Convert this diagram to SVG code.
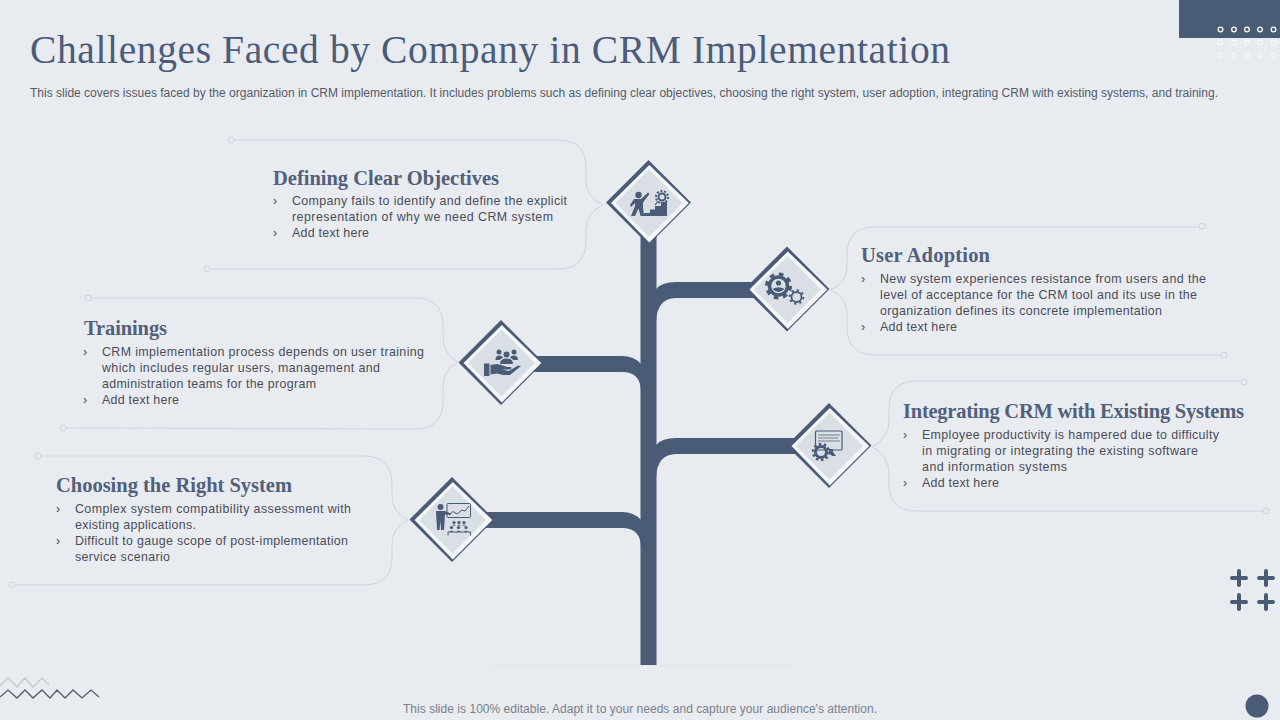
<svg xmlns="http://www.w3.org/2000/svg" width="1280" height="720" viewBox="0 0 1280 720">
<style>
.title{font:39.5px "Liberation Serif","DejaVu Serif",serif;fill:#4a5c78}
.sub{font:12px "Liberation Sans",Arial,sans-serif;fill:#555b66}
.foot{font:12px "Liberation Sans",Arial,sans-serif;fill:#7b808a}
.h{font:bold 20.5px "Liberation Serif","DejaVu Serif",serif;fill:#52607a}
.b{font:12.4px "Liberation Sans",Arial,sans-serif;fill:#4a4d57}
.call{fill:none;stroke:#ced5e0;stroke-width:1}
.end{fill:#e8ebf0;stroke:#ced5e0;stroke-width:1}
.dark{fill:#4a5b76}
.white{fill:#f4f6f9}
.gray{fill:#dadee5}
.ico{fill:#4a5b76}
.icol{fill:none;stroke:#4a5b76}
.plus{stroke:#4a5b76;stroke-width:4;stroke-linecap:round}
.dot{fill:none;stroke:#fff;stroke-width:1.3}
</style>
<defs>
<g id="diamond">
<polygon class="dark" points="0,-42.500 42.500,0 0,42.500 -42.500,0"/>
<polygon class="white" points="0.800,-37.500 40.300,0.500 0.800,40 -37.500,0.500"/>
<polygon class="gray" points="0.500,-33 34,0.500 0.500,34 -33,0.500"/>
</g>
</defs>
<rect width="1280" height="720" fill="#e8ebf0"/>
<rect class="dark" x="1179" y="0" width="101" height="38"/>
<g id="dots">
<g class="dot"><circle cx="1220.500" cy="29.500" r="2.300"/><circle cx="1234" cy="29.500" r="2.300"/><circle cx="1247" cy="29.500" r="2.300"/><circle cx="1260" cy="29.500" r="2.300"/><circle cx="1273.500" cy="29.500" r="2.300"/></g>
<g class="dot" opacity="0.6"><circle cx="1220.500" cy="42.500" r="2.300"/><circle cx="1234" cy="42.500" r="2.300"/><circle cx="1247" cy="42.500" r="2.300"/><circle cx="1260" cy="42.500" r="2.300"/><circle cx="1273.500" cy="42.500" r="2.300"/><circle cx="1220.500" cy="55.500" r="2.300"/><circle cx="1234" cy="55.500" r="2.300"/><circle cx="1247" cy="55.500" r="2.300"/><circle cx="1260" cy="55.500" r="2.300"/><circle cx="1273.500" cy="55.500" r="2.300"/></g>
</g>
<text class="title" x="30" y="63" textLength="920">Challenges Faced by Company in CRM Implementation</text>
<text class="sub" x="30" y="97" textLength="1188">This slide covers issues faced by the organization in CRM implementation. It includes problems such as defining clear objectives, choosing the right system, user adoption, integrating CRM with existing systems, and training.</text>
<line x1="490" y1="665.500" x2="795" y2="665.500" stroke="#e2e6ec" stroke-width="1"/>

<g id="connectors">
<rect class="dark" x="640.500" y="235" width="16" height="430"/>
<path class="dark" d="M656,289 Q662,282 676,282 L765,282 L765,298 L676,298 Q657,298 656,322 Z"/>
<path class="dark" d="M656,445 Q662,438 676,438 L805,438 L805,454 L676,454 Q657,454 656,478 Z"/>
<path class="dark" d="M525,356 L622,356 Q634,356 641,364 L641,392 Q641,372 622,372 L525,372 Z"/>
<path class="dark" d="M475,512 L622,512 Q634,512 641,520 L641,548 Q641,528 622,528 L475,528 Z"/>
</g>

<g id="node-objectives">
<path class="call" d="M234,140 L558,140 Q586,140 586,168 L586,180 Q586,197 603,205 Q586,213 586,230 L586,241 Q586,269 558,269 L210,269"/>
<circle class="end" cx="231" cy="140" r="3"/><circle class="end" cx="207" cy="269" r="3"/>
<text class="h" x="273" y="185" textLength="226">Defining Clear Objectives</text>
<text class="b" x="273" y="205">›</text><text class="b" x="292" y="205" textLength="275">Company fails to identify and define the explicit</text>
<text class="b" x="292" y="221" textLength="261">representation of why we need CRM system</text>
<text class="b" x="273" y="237">›</text><text class="b" x="292" y="237" textLength="77">Add text here</text>
<use href="#diamond" x="648.500" y="202.500"/>
<g id="icon-stairs">
<circle class="ico" cx="638.500" cy="195" r="3.200"/>
<path class="ico" d="M634,199 L641,199 L648,192.500 L649.500,194 L643,202.500 L643,207 L644,216 L640.500,216 L638.500,208.500 L635,216 L631,216 L635,206 L635,203 L631,207 L630,205 Z"/>
<path class="ico" d="M644,216 L667,216 L667,202 L661,202 L661,206 L655,206 L655,209.500 L650,209.500 L650,213 L644,213 Z"/>
<circle class="icol" cx="662" cy="197" r="3.500" stroke-width="2"/>
<circle class="icol" cx="662" cy="197" r="6" stroke-width="2" stroke-dasharray="2 1.700"/>
<path class="icol" d="M658,201 L655,205" stroke-width="1.200"/>
</g>
</g>

<g id="node-adoption">
<path class="call" d="M1199,227 L875,227 Q847,227 847,255 L847,266 Q847,283 830,290 Q847,297 847,314 L847,327 Q847,355 875,355 L1221,355"/>
<circle class="end" cx="1202" cy="226" r="3"/><circle class="end" cx="1224" cy="355" r="3"/>
<text class="h" x="861" y="262" textLength="129">User Adoption</text>
<text class="b" x="861" y="283">›</text><text class="b" x="880" y="283" textLength="326">New system experiences resistance from users and the</text>
<text class="b" x="880" y="299" textLength="317">level of acceptance for the CRM tool and its use in the</text>
<text class="b" x="880" y="315" textLength="282">organization defines its concrete implementation</text>
<text class="b" x="861" y="331">›</text><text class="b" x="880" y="331" textLength="77">Add text here</text>
<use href="#diamond" x="787" y="289"/>
<g id="icon-gears">
<circle class="icol" cx="778.500" cy="286" r="9" stroke-width="3.500"/>
<circle class="icol" cx="778.500" cy="286" r="11.500" stroke-width="4" stroke-dasharray="4.500 4.530"/>
<circle class="ico" cx="778.500" cy="283" r="2.600"/>
<path class="ico" d="M772.500,289 Q778.500,285.500 784.500,289 Q778.500,295 772.500,289 Z"/>
<circle class="icol" cx="796.500" cy="297" r="5" stroke-width="1.800"/>
<circle class="icol" cx="796.500" cy="297" r="6.800" stroke-width="2" stroke-dasharray="2.300 3.040"/>
</g>
</g>

<g id="node-trainings">
<path class="call" d="M91,298 L415,298 Q443,298 443,326 L443,338 Q443,354 458,362 Q443,370 443,386 L443,401 Q443,429 415,429 L66,428"/>
<circle class="end" cx="88" cy="298" r="3"/><circle class="end" cx="63" cy="428" r="3"/>
<text class="h" x="84" y="335" textLength="83">Trainings</text>
<text class="b" x="83" y="356">›</text><text class="b" x="102" y="356" textLength="322">CRM implementation process depends on user training</text>
<text class="b" x="102" y="372" textLength="278">which includes regular users, management and</text>
<text class="b" x="102" y="388" textLength="214">administration teams for the program</text>
<text class="b" x="83" y="404">›</text><text class="b" x="102" y="404" textLength="77">Add text here</text>
<use href="#diamond" x="501" y="362.500"/>
<g id="icon-hand">
<circle class="ico" cx="499" cy="352" r="2.500"/><circle class="ico" cx="514" cy="352" r="2.500"/><circle class="ico" cx="506.500" cy="354.500" r="3"/>
<path class="ico" d="M495.500,360 Q495.500,355.500 499,355.500 Q502,355.500 503,357.500 L499.500,360 Z M518,360 Q518,355.500 514,355.500 Q511,355.500 510,357.500 L513.500,360 Z M500,364 Q500,358.500 506.500,358.500 Q513,358.500 513,364 Z"/>
<rect class="ico" x="484" y="363.500" width="5.500" height="12.500"/>
<path class="ico" d="M490.500,365 L497,364 Q503,365 507,367 L511,367 Q512,369 510,369.500 L502,369.500 L509,371 L518,365.500 L521,366 L510,375 L503,375 L497,373.500 L490.500,374.500 Z"/>
</g>
</g>

<g id="node-system">
<path class="call" d="M41,456 L364,456 Q392,456 392,484 L392,496 Q392,512 408,520 Q392,528 392,544 L392,557 Q392,585 364,585 L15,585"/>
<circle class="end" cx="38" cy="456" r="3"/><circle class="end" cx="12" cy="585" r="3"/>
<text class="h" x="56" y="492" textLength="236">Choosing the Right System</text>
<text class="b" x="56" y="513">›</text><text class="b" x="75" y="513" textLength="276">Complex system compatibility assessment with</text>
<text class="b" x="75" y="529" textLength="121">existing applications.</text>
<text class="b" x="56" y="545">›</text><text class="b" x="75" y="545" textLength="273">Difficult to gauge scope of post-implementation</text>
<text class="b" x="75" y="561" textLength="95">service scenario</text>
<use href="#diamond" x="452" y="519.500"/>
<g id="icon-present">
<circle class="ico" cx="440.500" cy="507" r="3"/>
<path class="ico" d="M436,511 L445,511 L451,513.500 L450.500,515 L445,514.500 L444,530 L441,530 L440.500,521 L439.500,530 L437,530 Z"/>
<rect class="icol" x="447" y="503.500" width="23.500" height="14" stroke-width="1" rx="1"/>
<path class="icol" d="M450,514 L453,511.500 L457,514 L462,510 L465,511 L469,506" stroke-width="1"/>
<circle class="ico" cx="454" cy="522.500" r="1.600"/><circle class="ico" cx="459" cy="522.500" r="1.600"/><circle class="ico" cx="464" cy="522.500" r="1.600"/>
<circle class="ico" cx="451.500" cy="527.500" r="1.600"/><circle class="ico" cx="458.500" cy="527.500" r="1.600"/><circle class="ico" cx="466" cy="527.500" r="1.600"/>
<path class="ico" d="M449.500,532 Q451.500,529 453.500,532 Z M456.500,532 Q458.500,529 460.500,532 Z M464,532 Q466,529 468,532 Z M452,525.500 Q454,523.500 456,525.500 Z M457,525.500 Q459,523.500 461,525.500 Z M462,525.500 Q464,523.500 466,525.500 Z"/>
<path class="icol" d="M448,535.500 L448,532 L470.500,532 L470.500,535.500" stroke-width="1"/>
</g>
</g>

<g id="node-integrating">
<path class="call" d="M1241,381 L917,381 Q889,381 889,409 L889,421 Q889,438 872,447 Q889,456 889,473 L889,483 Q889,511 917,511 L1263,511"/>
<circle class="end" cx="1244" cy="382" r="3"/><circle class="end" cx="1266" cy="511" r="3"/>
<text class="h" x="903" y="418" textLength="341">Integrating CRM with Existing Systems</text>
<text class="b" x="903" y="439">›</text><text class="b" x="922" y="439" textLength="297">Employee productivity is hampered due to difficulty</text>
<text class="b" x="922" y="455" textLength="276">in  migrating or integrating the existing software</text>
<text class="b" x="922" y="471" textLength="145">and information systems</text>
<text class="b" x="903" y="487">›</text><text class="b" x="922" y="487" textLength="77">Add text here</text>
<use href="#diamond" x="829" y="445.500"/>
<g id="icon-cert">
<rect class="icol" x="815.500" y="431" width="26.500" height="19" stroke-width="1.200" rx="1"/>
<path class="icol" d="M818,435 L840,435 M818,438 L838,438 M818,441 L840,441" stroke-width="1" opacity="0.700"/>
<circle class="icol" cx="821" cy="452" r="5.500" stroke-width="3"/>
<circle class="icol" cx="821" cy="452" r="8" stroke-width="2.500" stroke-dasharray="2.500 2.530"/>
<path class="ico" d="M829,449 L833,449 L833,452 L836,456 L832,456 L829,453 Z"/>
</g>
</g>

<g id="plus-marks">
<path class="plus" d="M1232,578 H1246 M1239,571 V585 M1259,578 H1273 M1266,571 V585 M1232,602 H1246 M1239,595 V609 M1259,602 H1273 M1266,595 V609"/>
</g>
<circle class="dark" cx="1257" cy="706" r="11.500"/>
<g id="zigzags" fill="none" stroke-width="1.300">
<polyline stroke="#c3c7ce" points="0,686 8,678 17,687 25,678 33,687 42,678 49,685"/>
<polyline stroke="#545b68" points="0,697 8,690 17,698 25,690 33,698 42,690 50,698 57,690 65,698 73,690 82,698 91,690 99,697"/>
</g>
<text class="foot" x="403" y="713" textLength="474">This slide is 100% editable. Adapt it to your needs and capture your audience's attention.</text>
</svg>
